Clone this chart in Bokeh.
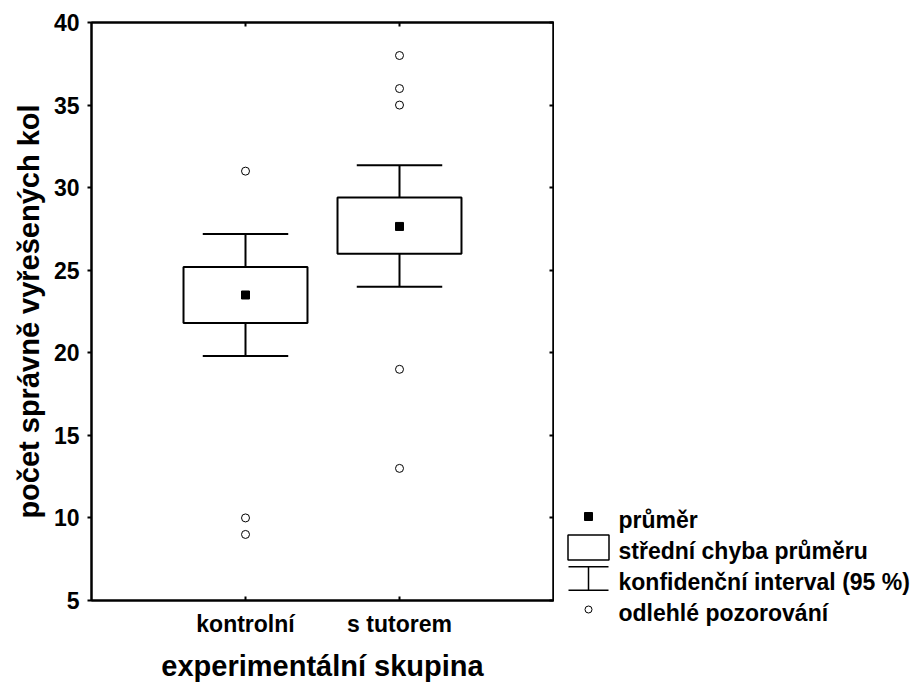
from bokeh.plotting import figure
from bokeh.layouts import row
from bokeh.models import (Range1d, FixedTicker, CustomJSTickFormatter, LinearAxis,
                          ColumnDataSource)
from bokeh.core.properties import value
from bokeh.embed import file_html
from bokeh.resources import INLINE

# --- data ---------------------------------------------------------------
groups = ["kontrolní", "s tutorem"]
means = [23.5, 27.65]
se_low = [21.8, 26.0]        # mean - standard error
se_high = [25.2, 29.4]       # mean + standard error
ci_low = [19.8, 24.0]        # 95 % confidence interval
ci_high = [27.2, 31.35]
outliers = [[31, 10, 9], [38, 36, 35, 19, 13]]
y_ticks = [5, 10, 15, 20, 25, 30, 35, 40]
legend_labels = ["průměr", "střední chyba průměru",
                 "konfidenční interval (95 %)", "odlehlé pozorování"]

FONT = "Liberation Sans"
BOX_W = 0.805
CAP_W = 0.555

pos = list(range(1, len(groups) + 1))

# --- main chart ---------------------------------------------------------
p = figure(width=554, height=684,
           x_range=Range1d(0, len(groups) + 1), y_range=Range1d(5, 40),
           output_backend="svg", toolbar_location=None,
           min_border_left=91, min_border_right=1,
           min_border_top=22, min_border_bottom=84)
p.grid.visible = False
p.background_fill_color = "white"
p.border_fill_color = "white"
p.outline_line_color = "black"
p.outline_line_width = 2

xa = p.xaxis[0]
xa.ticker = FixedTicker(ticks=pos)
xa.major_label_overrides = {x: g for x, g in zip(pos, groups)}
xa.axis_label = "experimentální skupina"
xa.major_tick_in = 4
xa.major_tick_out = 0
xa.major_label_standoff = 10
xa.axis_label_standoff = 10

ya = p.yaxis[0]
ya.ticker = FixedTicker(ticks=y_ticks)
ya.axis_label = "počet správně vyřešených kol"
ya.major_tick_in = 0
ya.major_tick_out = 4
ya.major_label_standoff = 8
ya.axis_label_standoff = 6

for ax in (xa, ya):
    ax.minor_tick_line_color = None
    ax.axis_line_width = 2
    ax.axis_line_color = "black"
    ax.major_tick_line_width = 2
    ax.major_tick_line_color = "black"
    ax.major_label_text_font = FONT
    ax.major_label_text_font_style = "bold"
    ax.major_label_text_font_size = "23px"
    ax.major_label_text_color = "black"
    ax.axis_label_text_font = FONT
    ax.axis_label_text_font_style = "bold"
    ax.axis_label_text_font_size = "29px"
    ax.axis_label_text_color = "black"

blank = "return ''"
top = LinearAxis(ticker=FixedTicker(ticks=pos),
                 formatter=CustomJSTickFormatter(code=blank))
right = LinearAxis(ticker=FixedTicker(ticks=y_ticks),
                   formatter=CustomJSTickFormatter(code=blank))
for ax in (top, right):
    ax.major_tick_in = 4
    ax.major_tick_out = 0
    ax.major_label_standoff = 0
    ax.major_label_text_font_size = "1px"
    ax.minor_tick_line_color = None
    ax.axis_line_width = 2
    ax.axis_line_color = "black"
    ax.major_tick_line_width = 2
p.add_layout(top, "above")
p.add_layout(right, "right")

src = ColumnDataSource(dict(
    x=pos, mean=means, se_lo=se_low, se_hi=se_high,
    ci_lo=ci_low, ci_hi=ci_high,
    cap_l=[x - CAP_W / 2 for x in pos], cap_r=[x + CAP_W / 2 for x in pos],
))

# whisker stems, standard-error boxes and caps
p.segment(x0="x", y0="ci_lo", x1="x", y1="ci_hi", source=src,
          line_color="black", line_width=2)
p.vbar(x="x", width=BOX_W, bottom="se_lo", top="se_hi", source=src,
       fill_color="white", line_color="black", line_width=2)
p.segment(x0="cap_l", y0="ci_hi", x1="cap_r", y1="ci_hi", source=src,
          line_color="black", line_width=2)
p.segment(x0="cap_l", y0="ci_lo", x1="cap_r", y1="ci_lo", source=src,
          line_color="black", line_width=2)

# means
p.scatter(x="x", y="mean", source=src, marker="square", size=8,
          fill_color="black", line_color="black")

# outlying observations
out_x = [pos[i] for i, vals in enumerate(outliers) for _ in vals]
out_y = [v for vals in outliers for v in vals]
p.scatter(x=out_x, y=out_y, marker="circle", size=8,
          fill_color="white", line_color="black", line_width=1)

# --- legend panel -------------------------------------------------------
ROW_PX = 31          # row spacing in pixels
FIRST_ROW_PX = 516   # centre of the first legend row from the top
LG_W, LG_H = 363, 684
lg = figure(width=LG_W, height=LG_H,
            x_range=Range1d(0, LG_W),
            y_range=Range1d((LG_H - FIRST_ROW_PX) / ROW_PX, -FIRST_ROW_PX / ROW_PX),
            output_backend="svg", toolbar_location=None,
            x_axis_type=None, y_axis_type=None, min_border=0)
lg.frame_align = False
lg.outline_line_color = None
lg.background_fill_color = "white"
lg.border_fill_color = "white"

rows = list(range(len(legend_labels)))
key_x = 34
half = 11.7 / ROW_PX
lg.scatter(x=[key_x], y=[rows[0]], marker="square", size=8,
           fill_color="black", line_color="black")
lg.rect(x=[key_x], y=[rows[1]], width=41, height=25,
        width_units="screen", height_units="screen",
        fill_color="white", line_color="black", line_width=1.5)
lg.segment(x0=[key_x, key_x - 20, key_x - 20],
           x1=[key_x, key_x + 20, key_x + 20],
           y0=[rows[2] - half, rows[2] - half, rows[2] + half],
           y1=[rows[2] + half, rows[2] - half, rows[2] + half],
           line_color="black", line_width=1.5)
lg.scatter(x=[key_x], y=[rows[3]], marker="circle", size=7,
           fill_color="white", line_color="black", line_width=1)
lg.text(x=[64] * len(rows), y=rows, text=legend_labels,
        text_font=value(FONT), text_font_style="bold", text_font_size="23px",
        text_baseline="alphabetic", text_align="left", text_color="black",
        y_offset=3)

layout = row(p, lg)
open("out.html", "w").write(file_html(layout, INLINE))
